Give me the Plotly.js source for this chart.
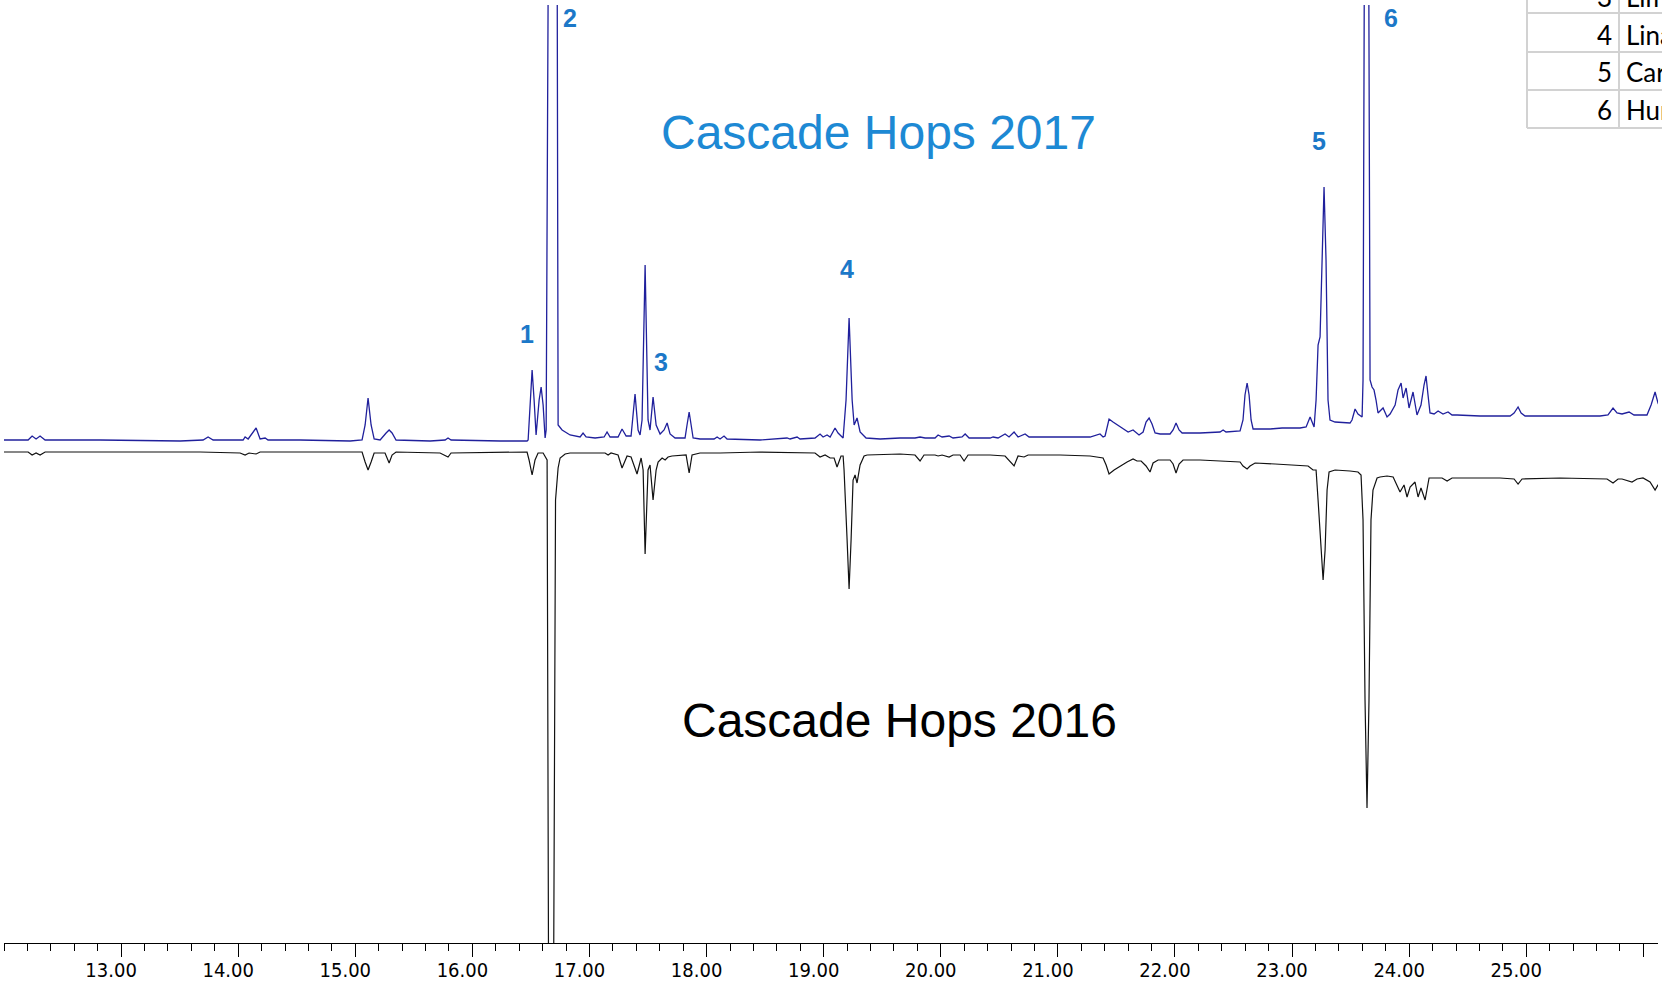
<!DOCTYPE html>
<html>
<head>
<meta charset="utf-8">
<script src="https://cdn.plot.ly/plotly-3.0.1.min.js"></script>
<style>html,body{margin:0;padding:0;background:#fff;}#chart{width:1662px;height:984px;}</style>
</head>
<body>
<div id="chart"></div>
<script>
// Retention time (min) and relative abundance, Cascade Hops 2017 (upper trace)
const rt2017 = [12.00,12.137,12.206,12.240,12.274,12.308,12.351,12.821,13.504,13.700,13.743,13.786,14.042,14.059,14.085,14.153,14.187,14.230,14.255,14.529,14.956,15.058,15.084,15.109,15.135,15.161,15.212,15.263,15.289,15.314,15.348,15.639,15.767,15.792,15.818,16.237,16.467,16.476,16.493,16.510,16.527,16.544,16.570,16.587,16.604,16.621,16.630,16.646,16.685,16.723,16.732,16.766,16.834,16.920,16.945,16.971,17.048,17.125,17.150,17.176,17.244,17.278,17.313,17.355,17.389,17.415,17.432,17.449,17.475,17.500,17.517,17.543,17.569,17.603,17.637,17.663,17.688,17.731,17.816,17.833,17.851,17.868,17.885,17.944,18.064,18.090,18.115,18.149,18.175,18.457,18.687,18.713,18.773,18.798,18.926,18.969,18.995,19.029,19.055,19.097,19.123,19.166,19.191,19.217,19.243,19.260,19.285,19.311,19.362,19.482,19.652,19.780,19.823,19.866,19.951,19.977,20.011,20.071,20.105,20.182,20.208,20.242,20.421,20.447,20.489,20.549,20.583,20.626,20.660,20.720,20.754,21.019,21.275,21.360,21.386,21.403,21.437,21.471,21.531,21.600,21.642,21.676,21.693,21.728,21.753,21.779,21.804,21.830,21.873,21.958,21.984,22.009,22.035,22.061,22.214,22.385,22.411,22.436,22.556,22.581,22.598,22.616,22.633,22.650,22.667,22.812,22.915,23.068,23.120,23.154,23.188,23.205,23.222,23.239,23.256,23.273,23.290,23.307,23.324,23.367,23.495,23.512,23.538,23.563,23.598,23.606,23.619,23.636,23.653,23.666,23.683,23.700,23.717,23.734,23.777,23.811,23.837,23.880,23.905,23.931,23.948,23.974,23.999,24.033,24.067,24.101,24.127,24.144,24.161,24.178,24.213,24.247,24.289,24.332,24.366,24.409,24.605,24.862,24.896,24.930,24.956,24.990,25.289,25.630,25.698,25.741,25.775,25.818,25.878,25.920,26.031,26.066,26.100,26.125,26.160];
const abundance2017 = [6,6,6,10,7,10,6,6,5,6,9,6,6,9,7,18,7,8,6,6,5,6,21,48,21,7,6,13,16,13,6,5,6,8,6,5,5,6,46,76,46,11,46,59,41,8,16,546,1446,546,21,16,11,9,13,9,8,9,14,9,9,17,10,10,52,16,11,26,181,26,16,49,21,12,16,23,12,8,8,21,34,21,8,7,7,9,7,10,7,6,8,7,9,7,8,12,9,11,9,18,13,8,46,128,46,21,28,14,8,7,8,8,9,8,8,11,9,10,8,9,12,8,8,9,8,12,9,14,9,12,9,9,9,12,9,10,27,24,19,14,16,12,11,14,24,28,22,13,12,12,16,23,16,13,13,14,16,14,15,26,51,63,51,26,17,17,18,18,19,29,19,46,101,109,186,259,186,46,26,24,23,26,37,32,29,66,546,1446,546,66,59,56,46,33,38,29,32,41,56,63,48,58,38,54,31,41,61,70,51,33,32,35,32,34,31,31,30,30,33,39,33,30,30,30,31,38,33,32,34,31,31,41,54,43,35];

// Cascade Hops 2016 (lower, mirrored trace)
const rt2016 = [12.00,12.206,12.240,12.274,12.308,12.351,13.675,14.016,14.059,14.093,14.153,14.187,14.529,15.058,15.084,15.109,15.135,15.161,15.254,15.289,15.314,15.348,15.724,15.767,15.792,15.818,16.237,16.467,16.484,16.510,16.535,16.561,16.604,16.638,16.651,16.672,16.693,16.710,16.732,16.749,16.792,16.834,16.945,17.090,17.133,17.159,17.184,17.244,17.278,17.321,17.355,17.406,17.441,17.458,17.475,17.500,17.517,17.543,17.569,17.586,17.620,17.646,17.671,17.705,17.825,17.851,17.876,17.944,18.115,18.457,18.798,18.926,18.969,19.012,19.055,19.089,19.114,19.148,19.166,19.174,19.200,19.217,19.234,19.251,19.268,19.285,19.311,19.345,19.371,19.652,19.780,19.823,19.857,19.951,19.977,20.011,20.071,20.105,20.165,20.199,20.233,20.421,20.549,20.626,20.660,20.711,20.746,21.019,21.275,21.360,21.386,21.412,21.437,21.480,21.531,21.591,21.642,21.676,21.711,21.753,21.787,21.813,21.856,21.958,21.984,22.009,22.035,22.069,22.214,22.470,22.556,22.581,22.616,22.641,22.684,22.855,23.068,23.137,23.179,23.205,23.222,23.248,23.265,23.282,23.299,23.316,23.367,23.495,23.563,23.589,23.606,23.623,23.640,23.657,23.674,23.691,23.726,23.751,23.811,23.863,23.897,23.922,23.956,23.982,24.008,24.050,24.076,24.101,24.136,24.170,24.281,24.324,24.366,24.776,24.896,24.930,24.964,25.289,25.690,25.741,25.784,25.818,25.903,25.946,25.997,26.057,26.100,26.125,26.160];
const abundance2016 = [6,6,9,7,9,6,6,7,9,7,8,6,6,6,16,24,16,7,7,17,9,6,7,10,11,7,6,6,14,29,14,7,7,14,554,1554,554,54,22,12,8,7,7,7,7,9,7,9,22,10,11,28,12,24,108,24,19,54,24,16,12,14,11,10,9,27,9,7,7,6,7,7,11,9,12,12,21,10,10,24,94,143,94,34,29,37,19,10,9,8,9,15,9,9,10,9,11,9,9,15,9,9,10,20,10,11,9,9,10,11,12,19,28,24,20,16,13,15,15,20,26,17,14,14,18,27,18,14,14,15,16,20,23,20,17,18,19,20,24,24,54,104,134,104,44,26,24,25,26,29,74,254,362,254,74,44,32,31,30,31,39,46,39,51,41,36,51,42,54,32,32,35,32,32,33,38,33,32,33,37,33,33,36,33,32,36,44,39,36];

// Axis ticks
const tickVals = [13,14,15,16,17,18,19,20,21,22,23,24,25,26];
const tickLabels = ['13.00','14.00','15.00','16.00','17.00','18.00','19.00','20.00','21.00','22.00','23.00','24.00','25.00',''];

// Peak numbers
const peakIds = ['1','2','3','4','5','6'];
// Compound table (partially visible)
const tableNumbers = ['3','4','5','6'];
const tableNames = ['Limonene','Linalool','Caryophyllene','Humulene'];

const traces = [
  {x: rt2017, y: abundance2017, type:'scatter', mode:'lines', name:'Cascade Hops 2017',
   line:{color:'#20209c', width:1.3}, hoverinfo:'x+y'},
  {x: rt2016, y: abundance2016.map(v => -v), type:'scatter', mode:'lines', name:'Cascade Hops 2016',
   line:{color:'#111111', width:1.2}, hoverinfo:'x+y'}
];

const labelFont = {family:'Liberation Sans, Arial, sans-serif', size:25, color:'#1c78c8', weight:'bold'};
const peakPos = [[16.467,112.5],[16.834,428.5],[17.611,84.5],[19.195,177.5],[23.226,305],[23.845,428.5]];
const annotations = peakIds.map((t,i) => ({
  text:'<b>'+t+'</b>', x:peakPos[i][0], y:peakPos[i][1], xref:'x', yref:'y',
  showarrow:false, xanchor:'center', yanchor:'middle', font:labelFont
}));
annotations.push({text:'Cascade Hops 2017', x:19.465, y:314, xref:'x', yref:'y', showarrow:false,
  xanchor:'center', yanchor:'middle', font:{family:'Liberation Sans, Arial, sans-serif', size:48, color:'#1d89d4'}});
annotations.push({text:'Cascade Hops 2016', x:19.644, y:-274, xref:'x', yref:'y', showarrow:false,
  xanchor:'center', yanchor:'middle', font:{family:'Liberation Sans, Arial, sans-serif', size:48, color:'#000000'}});

// table text
const rowY = [1.0085, 0.96855, 0.92804, 0.88806];
const tableFont = {family:'Lato, Open Sans, sans-serif', size:26, color:'#000'};
tableNumbers.forEach((n,i) => {
  annotations.push({text:n, x:0.9734, y:rowY[i], xref:'paper', yref:'paper', showarrow:false,
    xanchor:'right', yanchor:'middle', font:tableFont});
  annotations.push({text:tableNames[i], x:0.97944, y:rowY[i], xref:'paper', yref:'paper', showarrow:false,
    xanchor:'left', yanchor:'middle', font:tableFont});
});

const gridLine = {color:'#d2d2d2', width:2};
const shapes = [];
[0.99147, 0.94989, 0.90938, 0.86887].forEach(y => {
  shapes.push({type:'line', xref:'paper', yref:'paper', x0:0.9208, x1:1.01, y0:y, y1:y, line:gridLine});
});
[0.9208, 0.97642].forEach(x => {
  shapes.push({type:'line', xref:'paper', yref:'paper', x0:x, x1:x, y0:0.86887, y1:1.02, line:gridLine});
});

const layout = {
  width:1662, height:984,
  margin:{l:4, r:4, t:5, b:41},
  paper_bgcolor:'#ffffff', plot_bgcolor:'#ffffff',
  showlegend:false,
  xaxis:{
    range:[12.0, 26.125], showgrid:false, zeroline:false,
    showline:true, linecolor:'#000', linewidth:1,
    ticks:'outside', ticklen:13, tickwidth:1, tickcolor:'#000',
    tickmode:'array', tickvals:tickVals, ticktext:tickLabels,
    ticklabelshift:-10, ticklabelstandoff:-4,
    tickfont:{family:'Liberation Sans Narrow, Arial Narrow, DejaVu Sans Condensed, sans-serif', size:20, color:'#000'},
    minor:{tickmode:'linear', tick0:12, dtick:0.2, ticks:'outside', ticklen:7, tickwidth:1, tickcolor:'#000', showgrid:false}
  },
  yaxis:{range:[-497, 441], visible:false, showgrid:false, zeroline:false},
  annotations:annotations,
  shapes:shapes
};

Plotly.newPlot('chart', traces, layout, {displayModeBar:false, staticPlot:true});
</script>
</body>
</html>
